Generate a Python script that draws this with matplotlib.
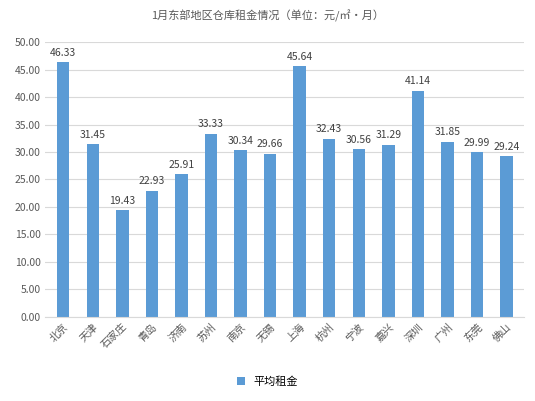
import matplotlib.pyplot as plt

plt.rcParams['font.family'] = ['Noto Sans CJK SC', 'DejaVu Sans']

cities = ['北京', '天津', '石家庄', '青岛', '济南', '苏州', '南京', '无锡',
          '上海', '杭州', '宁波', '嘉兴', '深圳', '广州', '东莞', '佛山']
rent = [46.33, 31.45, 19.43, 22.93, 25.91, 33.33, 30.34, 29.66,
        45.64, 32.43, 30.56, 31.29, 41.14, 31.85, 29.99, 29.24]

fig = plt.figure(figsize=(5.35, 4.01), dpi=100)
ax = fig.add_axes([0.085, 0.21, 0.895, 0.685])
x = range(len(cities))
bars = ax.bar(x, rent, width=0.42, color='#5b9bd5', label='平均租金')
for xi, v in zip(x, rent):
    ax.text(xi, v + 0.8, f'{v:.2f}', ha='center', va='bottom', fontsize=7.5, color='#404040')

ax.set_ylim(0, 50)
ax.set_yticks(range(0, 51, 5))
ax.set_yticklabels([f'{t:.2f}' for t in range(0, 51, 5)], fontsize=7.5, color='#595959')
ax.set_xlim(-0.6, len(cities) - 0.4)
ax.set_xticks(list(x))
ax.set_xticklabels(cities, rotation=45, fontsize=7.5, color='#595959', ha='right', rotation_mode='anchor')
ax.tick_params(length=0)
ax.grid(axis='y', color='#d9d9d9', linewidth=0.8)
ax.set_axisbelow(True)
for s in ['top', 'right', 'left']:
    ax.spines[s].set_visible(False)
ax.spines['bottom'].set_color('#d9d9d9')

fig.suptitle('1月东部地区仓库租金情况（单位：元/㎡·月）', y=0.975, fontsize=8, color='#595959')
fig.legend(loc='lower center', bbox_to_anchor=(0.5, 0.01), frameon=False, fontsize=8,
           handlelength=0.7, handleheight=0.7)
fig.savefig('out.png')
